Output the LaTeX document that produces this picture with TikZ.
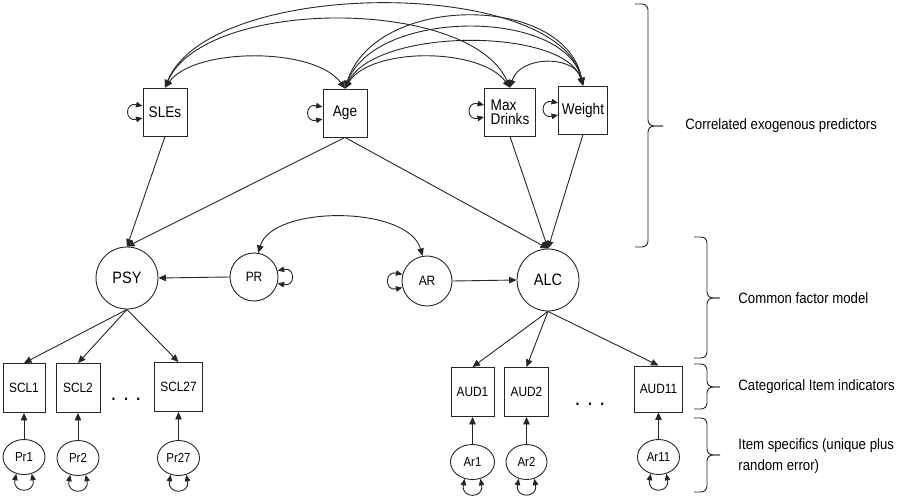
\documentclass[tikz,border=0pt]{standalone}
\usepackage{fontspec}
\setmainfont{Liberation Sans}[FakeStretch=0.88]
\usetikzlibrary{arrows.meta,shapes.geometric}
\begin{document}
\begin{tikzpicture}[x=1pt,y=-1pt, line width=0.9pt, draw=black!85,
  >={Triangle[length=7.5pt,width=6.5pt]},
  obs/.style={draw, rectangle, inner sep=0pt, minimum height=48pt, font=\fontsize{15.5}{14}\selectfont},
  ind/.style={draw, rectangle, inner sep=0pt, minimum height=49pt, font=\fontsize{13.5}{14}\selectfont},
  lat/.style={draw, circle, inner sep=0pt, minimum size=62pt, font=\fontsize{16.5}{16}\selectfont},
  res/.style={draw, circle, inner sep=0pt, font=\fontsize{13.5}{14}\selectfont},
  err/.style={draw, ellipse, inner sep=0pt, minimum width=42pt, minimum height=35pt, font=\fontsize{13}{14}\selectfont},
  lbl/.style={anchor=west, inner sep=0pt, font=\fontsize{15}{21}\selectfont, align=left},
  dotsnode/.style={inner sep=0pt, anchor=base, font=\fontsize{16}{16}\selectfont\bfseries},
  reg/.style={->},
  cov/.style={<->},
  loopy/.style={{Triangle[length=6.5pt,width=5.5pt]}-{Triangle[length=6.5pt,width=5.5pt]}},
  brc/.style={rounded corners=6pt},
]
\useasboundingbox (0,0) rectangle (900,503);

% exogenous predictors
\node[obs, minimum width=44pt] (sle) at (165,112) {SLEs};
\node[obs, minimum width=44pt] (age) at (345,113) {Age};
\node[obs, minimum width=51pt, align=left] (md) at (510,112) {Max\\Drinks};
\node[obs, minimum width=49pt] (wt) at (583,110) {Weight};

% latent factors
\node[lat] (psy) at (127,278) {PSY};
\node[lat] (alc) at (548,280) {ALC};
\node[res, minimum size=48pt] (pr) at (254,277) {PR};
\node[res, minimum size=50pt] (ar) at (427,281) {AR};

% indicators
\node[ind, minimum width=42pt] (scl1) at (24,388) {SCL1};
\node[ind, minimum width=44pt] (scl2) at (78,388) {SCL2};
\node[ind, minimum width=48pt] (scl27) at (178.5,387) {SCL27};
\node[ind, minimum width=43pt] (aud1) at (472.5,392) {AUD1};
\node[ind, minimum width=44pt] (aud2) at (526.5,392) {AUD2};
\node[ind, minimum width=48pt, minimum height=46pt] (aud11) at (658.5,389) {AUD11};

% item specifics
\node[err] (pr1) at (24,457) {Pr1};
\node[err] (pr2) at (78,458) {Pr2};
\node[err] (pr27) at (178.5,458) {Pr27};
\node[err, minimum width=44pt] (ar1) at (472.5,462) {Ar1};
\node[err, minimum width=41pt] (ar2) at (526.5,462) {Ar2};
\node[err] (ar11) at (658.5,457) {Ar11};

% ellipses
\node[dotsnode] (dl) at (126,400) {.\hspace{8.5pt}.\hspace{8.5pt}.};
\node[dotsnode] (dr) at (590,405) {.\hspace{8.5pt}.\hspace{8.5pt}.};

% covariances among predictors
\draw[cov] (sle.north) .. controls (195,47) and (315,47) .. (age.north);
\draw[cov] (sle.north) .. controls (205,-3) and (470,-3) .. (md.north);
\draw[cov] (sle.north) .. controls (210,-23) and (560,-23) .. (wt.north);
\draw[cov] (age.north) .. controls (370,47) and (480,47) .. (md.north);
\draw[cov] (age.north) .. controls (375,-7) and (565,-7) .. (wt.north);
\draw[cov] (age.north) .. controls (375,8) and (565,8) .. (wt.north);
\draw[cov] (age.north) .. controls (375,27) and (565,27) .. (wt.north);
\draw[cov] (md.north) .. controls (520,55) and (575,55) .. (wt.north);

% variances of predictors
\draw[loopy] ([yshift=6pt]sle.west) .. controls +(-18,-4) and +(-18,4) .. ([yshift=-6pt]sle.west);
\draw[loopy] ([yshift=6pt]age.west) .. controls +(-18,-4) and +(-18,4) .. ([yshift=-6pt]age.west);
\draw[loopy] ([yshift=7pt]md.west) .. controls +(-18,-4) and +(-18,4) .. ([yshift=-5pt]md.west);
\draw[loopy] ([yshift=7pt]wt.west) .. controls +(-18,-4) and +(-18,4) .. ([yshift=-5pt]wt.west);

% regressions
\draw[reg] (sle.south) -- (psy.north);
\draw[reg] (age.south) -- (psy.north);
\draw[reg] (age.south) -- (alc.north);
\draw[reg] (md.south) -- (alc.north);
\draw[reg] (wt.south) -- (alc.north);
\draw[reg] (pr.west) -- (psy.east);
\draw[reg] (ar.east) -- (alc.west);
\draw[cov] (pr.80) .. controls (272,205) and (408,205) .. (ar.100);
\draw[loopy] (pr.15) .. controls +(18,-4) and +(18,4) .. (pr.-15);
\draw[loopy] (ar.165) .. controls +(-18,-4) and +(-18,4) .. (ar.195);

% loadings
\draw[reg] (psy.south) -- (scl1.north);
\draw[reg] (psy.south) -- (scl2.north);
\draw[reg] (psy.south) -- (scl27.north);
\draw[reg] (alc.south) -- (aud1.north);
\draw[reg] (alc.south) -- (aud2.north);
\draw[reg] (alc.south) -- (aud11.north);

% item specifics
\foreach \e/\i in {pr1/scl1, pr2/scl2, pr27/scl27, ar1/aud1, ar2/aud2, ar11/aud11}{
  \draw[reg] (\e.north) -- (\i.south);
  \draw[loopy] (\e.-115) .. controls +(-4,20) and +(4,20) .. (\e.-65);
}

% braces
\draw[brc] (635,4) -- (648,4) -- (648,126) -- (663,126);
\draw[brc] (663,126) -- (648,126) -- (648,247) -- (635,247);
\draw[brc] (694,237) -- (707,237) -- (707,298) -- (720,298);
\draw[brc] (720,298) -- (707,298) -- (707,358) -- (694,358);
\draw[brc] (694,364) -- (707,364) -- (707,387) -- (720,387);
\draw[brc] (720,387) -- (707,387) -- (707,409) -- (694,409);
\draw[brc] (694,418) -- (707,418) -- (707,455) -- (720,455);
\draw[brc] (720,455) -- (707,455) -- (707,492) -- (694,492);

% brace labels
\node[lbl] (t1) at (685,126) {Correlated exogenous predictors};
\node[lbl] (t2) at (738,298) {Common factor model};
\node[lbl] (t3) at (738,387) {Categorical Item indicators};
\node[lbl] (t4) at (738,456) {Item specifics (unique plus\\random error)};
\end{tikzpicture}
\end{document}
